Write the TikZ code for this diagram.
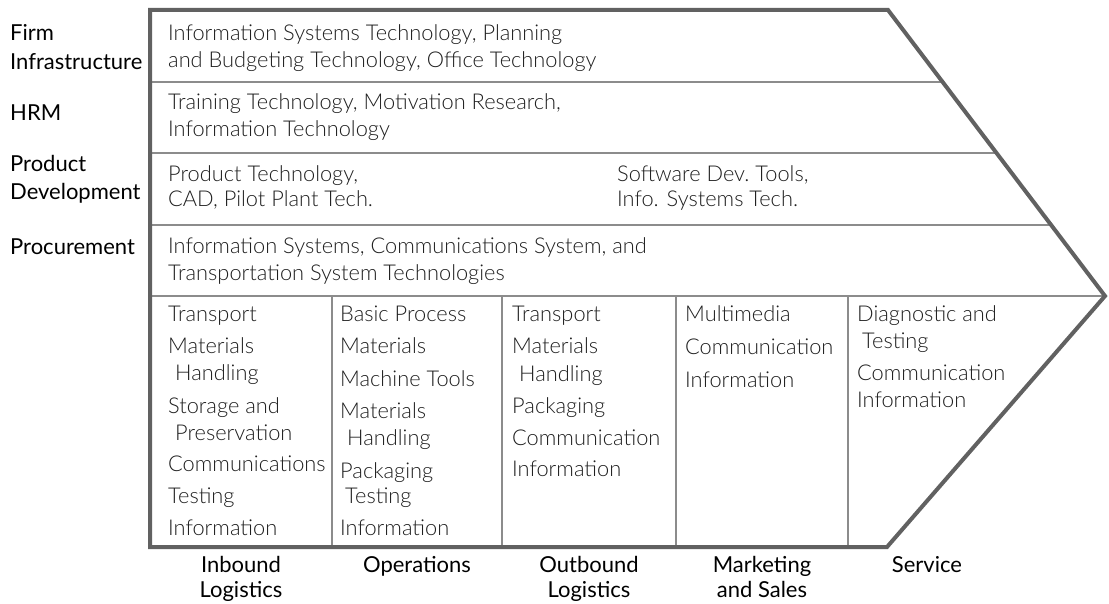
\documentclass[tikz,border=0pt]{standalone}
\usepackage{fontspec}
\setmainfont{Lato}
\newfontfamily\lightfont{Lato Light}
\begin{document}
\begin{tikzpicture}[x=1pt,y=-1pt,
  txt/.style={anchor=base west,inner sep=0pt,font=\lightfont\fontsize{21.8}{26}\selectfont,text=black!88},
  lbl/.style={anchor=base west,inner sep=0pt,font=\fontsize{22}{26}\selectfont,text=black},
  blbl/.style={anchor=north,inner sep=0pt,align=center,font=\fontsize{22}{25.5}\selectfont,text=black},
  thin/.style={draw=black!45,line width=1.4pt},
  border/.style={draw=black!62,line width=4pt,line join=miter}]
\useasboundingbox (0,0) rectangle (1109,604);
% corners
\coordinate (tl) at (150,10);
\coordinate (tr) at (888,10);
\coordinate (tip) at (1105,296);
\coordinate (br) at (887,547);
\coordinate (bl) at (150,547);
% row dividers
\coordinate (r1a) at (150,82);  \coordinate (r1b) at (942,82);
\coordinate (r2a) at (150,153); \coordinate (r2b) at (996,153);
\coordinate (r3a) at (150,225); \coordinate (r3b) at (1050,225);
\coordinate (r4a) at (150,296);
\draw[thin] (r1a) -- (r1b);
\draw[thin] (r2a) -- (r2b);
\draw[thin] (r3a) -- (r3b);
\draw[thin] (r4a) -- (tip);
% column dividers
\foreach \x/\n in {332/c1,502/c2,676/c3,848/c4}{
  \coordinate (\n t) at (\x,296);
  \coordinate (\n b) at (\x,547);
  \draw[thin] (\n t) -- (\n b);
}
% outline
\draw[border] (tl) -- (tr) -- (tip) -- (br) -- (bl) -- cycle;
% left labels
\node[lbl] (lf1) at (10,41) {Firm};
\node[lbl] (lf2) at (10,70) {Infrastructure};
\node[lbl] (lh) at (10,121) {HRM};
\node[lbl] (lp1) at (10,172) {Product};
\node[lbl] (lp2) at (10,200) {Development};
\node[lbl] (lpr) at (10,255) {Procurement};
% support rows
\node[txt] (f1) at (168,41) {Information Systems Technology, Planning};
\node[txt] (f2) at (168,68) {and Budgeting Technology, Office Technology};
\node[txt] (h1) at (168,110) {Training Technology, Motivation Research,};
\node[txt] (h2) at (168,137) {Information Technology};
\node[txt] (p1) at (168,182) {Product Technology,};
\node[txt] (p2) at (168,207) {CAD, Pilot Plant Tech.};
\node[txt] (p3) at (617,182) {Software Dev.\ Tools,};
\node[txt] (p4) at (617,207) {Info. Systems Tech.};
\node[txt] (q1) at (168,254) {Information Systems, Communications System, and};
\node[txt] (q2) at (168,281) {Transportation System Technologies};
% column 1
\node[txt] (a1) at (168,321) {Transport};
\node[txt] (a2) at (168,353) {Materials};
\node[txt] (a3) at (175,380) {Handling};
\node[txt] (a4) at (168,413) {Storage and};
\node[txt] (a5) at (175,440) {Preservation};
\node[txt] (a6) at (168,471) {Communications};
\node[txt] (a7) at (168,503) {Testing};
\node[txt] (a8) at (168,535) {Information};
% column 2
\node[txt] (b1) at (340,321) {Basic Process};
\node[txt] (b2) at (340,353) {Materials};
\node[txt] (b3) at (340,386) {Machine Tools};
\node[txt] (b4) at (340,418) {Materials};
\node[txt] (b5) at (347,445) {Handling};
\node[txt] (b6) at (340,478) {Packaging};
\node[txt] (b7) at (345,503) {Testing};
\node[txt] (b8) at (340,535) {Information};
% column 3
\node[txt] (d1) at (512,321) {Transport};
\node[txt] (d2) at (512,353) {Materials};
\node[txt] (d3) at (519,381) {Handling};
\node[txt] (d4) at (512,413) {Packaging};
\node[txt] (d5) at (512,445) {Communication};
\node[txt] (d6) at (512,476) {Information};
% column 4
\node[txt] (e1) at (685,321) {Multimedia};
\node[txt] (e2) at (685,354) {Communication};
\node[txt] (e3) at (685,387) {Information};
% column 5
\node[txt] (s1) at (857,321) {Diagnostic and};
\node[txt] (s2) at (862,348) {Testing};
\node[txt] (s3) at (857,380) {Communication};
\node[txt] (s4) at (857,407) {Information};
% bottom labels
\node[blbl] (bl1) at (241,556) {Inbound\\Logistics};
\node[blbl] (bl2) at (417,556) {Operations};
\node[blbl] (bl3) at (589,556) {Outbound\\Logistics};
\node[blbl] (bl4) at (762,556) {Marketing\\and Sales};
\node[blbl] (bl5) at (927,556) {Service};
\end{tikzpicture}
\end{document}
